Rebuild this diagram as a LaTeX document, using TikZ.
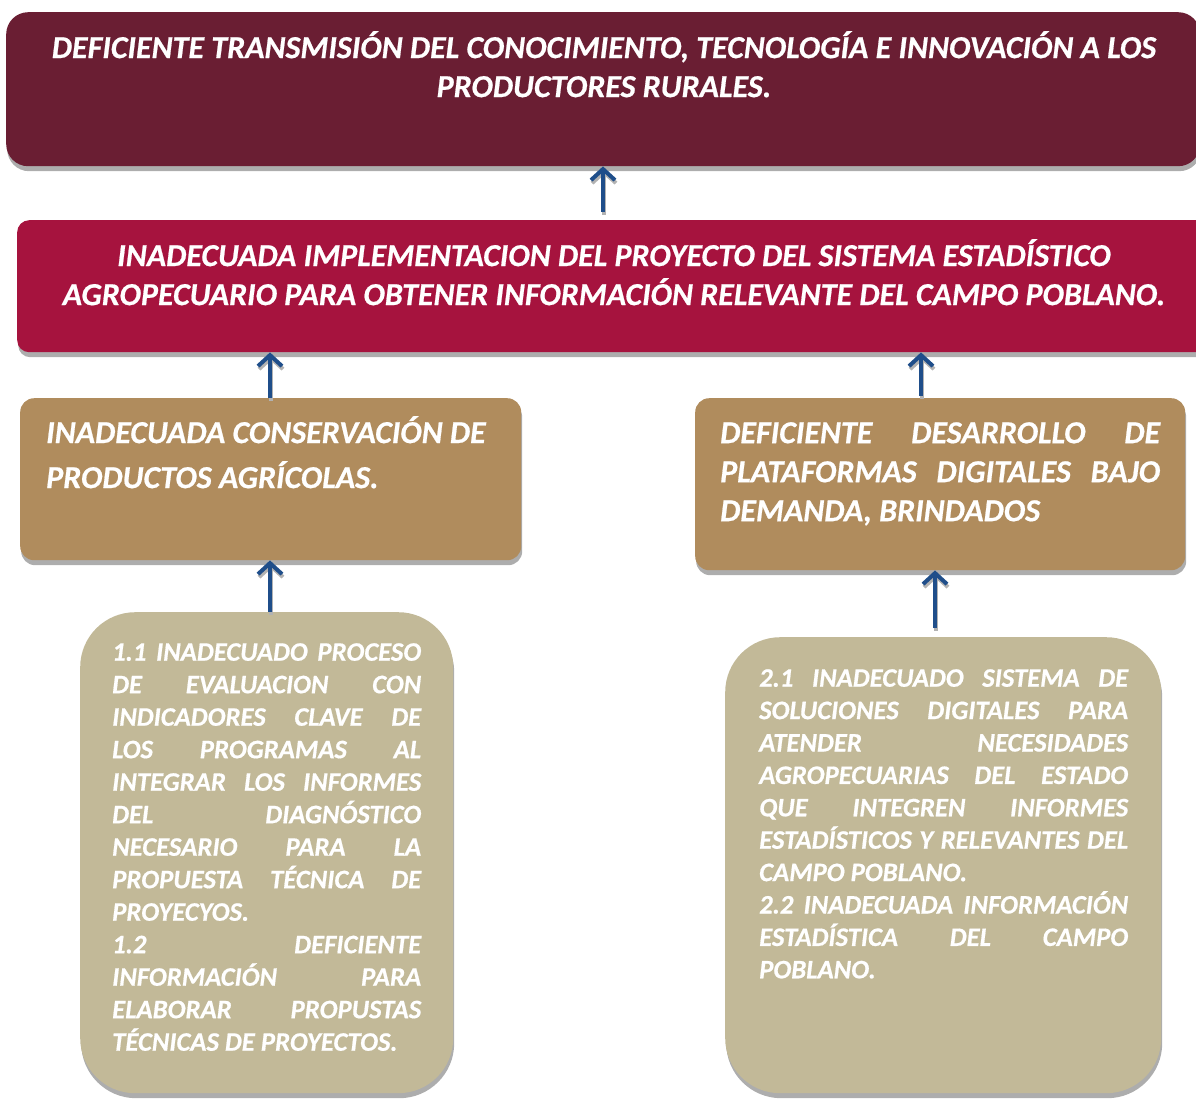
\documentclass[tikz,border=0pt]{standalone}
\usepackage{fontspec}
\setmainfont{Carlito}[BoldItalicFeatures={FakeBold=0.6}]
\usetikzlibrary{shadows,arrows.meta}
\definecolor{cTop}{HTML}{6A1E33}
\definecolor{cMid}{HTML}{A6133E}
\definecolor{cThird}{HTML}{B08C5D}
\definecolor{cFourth}{HTML}{C2B998}
\definecolor{cArrow}{HTML}{1F4E8A}
\newcommand{\jl}[2]{\makebox[#1][s]{#2}}
\tikzset{
  boxshape/.style={rectangle, anchor=north west, inner sep=0pt, draw=none,
    drop shadow={shadow xshift=1pt, shadow yshift=-5pt, fill=black!32, opacity=1}},
  txt/.style={inner sep=0pt, text=white, font=\bfseries\itshape},
  upar/.style={line width=4pt, draw=cArrow, -{Straight Barb[length=11pt,width=24pt]}},
  upsh/.style={line width=4pt, draw=black!30, -{Straight Barb[length=11pt,width=24pt]}},
}
\begin{document}
\begin{tikzpicture}[x=1pt,y=-1pt]
\useasboundingbox (0,0) rectangle (1196,1098);
% boxes
\node[boxshape, fill=cTop, rounded corners=22pt, minimum width=1194pt, minimum height=154pt] (top) at (6,12) {};
\node[boxshape, fill=cMid, rounded corners=12pt, minimum width=1198pt, minimum height=132pt] (mid) at (17,220) {};
\node[boxshape, fill=cThird, rounded corners=14pt, minimum width=501pt, minimum height=162pt] (cL) at (20,398) {};
\node[boxshape, fill=cThird, rounded corners=14pt, minimum width=490pt, minimum height=172pt] (cR) at (695,398) {};
\node[boxshape, fill=cFourth, rounded corners=55pt, minimum width=373pt, minimum height=481pt] (dL) at (80,612) {};
\node[boxshape, fill=cFourth, rounded corners=55pt, minimum width=436pt, minimum height=456pt] (dR) at (725,637) {};
% texts
\node[txt, anchor=north, align=center, font=\fontsize{32}{39}\selectfont\bfseries\itshape] (topT) at (604,31)
 {DEFICIENTE TRANSMISIÓN DEL CONOCIMIENTO, TECNOLOGÍA E INNOVACIÓN A LOS\\PRODUCTORES RURALES.};
\node[txt, anchor=north, align=center, font=\fontsize{32}{39}\selectfont\bfseries\itshape] (midT) at (614,239)
 {INADECUADA IMPLEMENTACION DEL PROYECTO DEL SISTEMA ESTADÍSTICO\\AGROPECUARIO PARA OBTENER INFORMACIÓN RELEVANTE DEL CAMPO POBLANO.};
\node[txt, anchor=north west, align=left, font=\fontsize{32}{45}\selectfont\bfseries\itshape] (cLT) at (46,416)
 {INADECUADA CONSERVACIÓN DE\\PRODUCTOS AGRÍCOLAS.};
\node[txt, anchor=north west, align=left, font=\fontsize{32}{39}\selectfont\bfseries\itshape] (cRT) at (720,422)
 {\jl{440pt}{DEFICIENTE DESARROLLO DE}\\\jl{440pt}{PLATAFORMAS DIGITALES BAJO}\\DEMANDA, BRINDADOS};
\node[txt, anchor=north west, align=left, font=\fontsize{26.7}{32.5}\selectfont\bfseries\itshape] (dLT) at (112,643)
 {\jl{309pt}{1.1 INADECUADO PROCESO}\\
  \jl{309pt}{DE EVALUACION CON}\\
  \jl{309pt}{INDICADORES CLAVE DE}\\
  \jl{309pt}{LOS PROGRAMAS AL}\\
  \jl{309pt}{INTEGRAR LOS INFORMES}\\
  \jl{309pt}{DEL DIAGNÓSTICO}\\
  \jl{309pt}{NECESARIO PARA LA}\\
  \jl{309pt}{PROPUESTA TÉCNICA DE}\\
  PROYECYOS.\\
  \jl{309pt}{1.2 DEFICIENTE}\\
  \jl{309pt}{INFORMACIÓN PARA}\\
  \jl{309pt}{ELABORAR PROPUSTAS}\\
  TÉCNICAS DE PROYECTOS.};
\node[txt, anchor=north west, align=left, font=\fontsize{26.7}{32.4}\selectfont\bfseries\itshape] (dRT) at (759,669)
 {\jl{369pt}{2.1 INADECUADO SISTEMA DE}\\
  \jl{369pt}{SOLUCIONES DIGITALES PARA}\\
  \jl{369pt}{ATENDER NECESIDADES}\\
  \jl{369pt}{AGROPECUARIAS DEL ESTADO}\\
  \jl{369pt}{QUE INTEGREN INFORMES}\\
  \jl{369pt}{ESTADÍSTICOS Y RELEVANTES DEL}\\
  CAMPO POBLANO.\\
  \jl{369pt}{2.2 INADECUADA INFORMACIÓN}\\
  \jl{369pt}{ESTADÍSTICA DEL CAMPO}\\
  POBLANO.};
% arrows
\coordinate (a1) at (603,212);
\coordinate (a2) at (270,398);
\coordinate (a3) at (921,396);
\coordinate (a4) at (270,612);
\coordinate (a5) at (935,628);
\foreach \s/\t in {a1/top, a2/mid, a3/mid, a4/cL, a5/cR}{
  \draw[upsh, transform canvas={xshift=1pt,yshift=-3pt}] (\s) -- (\s |- \t.south);
  \draw[upar] (\s) -- (\s |- \t.south);
}
\end{tikzpicture}
\end{document}
